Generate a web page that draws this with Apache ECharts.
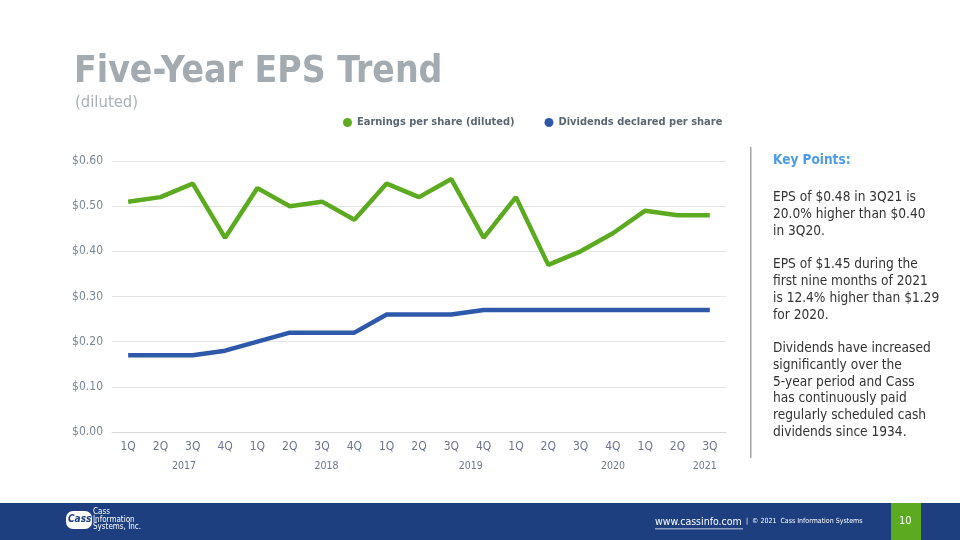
<!DOCTYPE html>
<html>
<head>
<meta charset="utf-8">
<script src="https://cdn.jsdelivr.net/npm/echarts@6/dist/echarts.min.js"></script>
<style>
  html, body { margin:0; padding:0; width:960px; height:540px; overflow:hidden; background:#fff; }
  #chart { width:960px; height:540px; }
</style>
</head>
<body>
<div id="chart"></div>
<script>
var quarters = ['1Q','2Q','3Q','4Q','1Q','2Q','3Q','4Q','1Q','2Q','3Q','4Q','1Q','2Q','3Q','4Q','1Q','2Q','3Q'];
var eps = [0.51,0.52,0.55,0.43,0.54,0.50,0.51,0.47,0.55,0.52,0.56,0.43,0.52,0.37,0.40,0.44,0.49,0.48,0.48];
var dividends = [0.17,0.17,0.17,0.18,0.20,0.22,0.22,0.22,0.26,0.26,0.26,0.27,0.27,0.27,0.27,0.27,0.27,0.27,0.27];
var yearLabels = ['2017','2018','2019','2020','2021'];
var yearPositions = [1.73, 6.14, 10.6, 15.0, 17.84];
var seriesNames = ['Earnings per share (diluted)', 'Dividends declared per share'];
var keyPointsTitle = 'Key Points:';
var keyPoints = [
  'EPS of $0.48 in 3Q21 is\n20.0% higher than $0.40\nin 3Q20.',
  'EPS of $1.45 during the\nfirst nine months of 2021\nis 12.4% higher than $1.29\nfor 2020.',
  'Dividends have increased\nsignificantly over the\n5-year period and Cass\nhas continuously paid\nregularly scheduled cash\ndividends since 1934.'
];

var font = '"DejaVu Sans", Verdana, sans-serif';
var cfont = '"DejaVu Sans Condensed", "DejaVu Sans", sans-serif';
var chart = echarts.init(document.getElementById('chart'), null, {renderer:'canvas'});

var graphics = [
  {type:'text', left:74, top:54, style:{text:'Five-Year EPS Trend', fill:'#A3ABB1', font:'bold 37px ' + cfont}},
  {type:'text', left:75, top:94, style:{text:'(diluted)', fill:'#A9B0B6', font:'16.5px ' + cfont}},
  {type:'rect', shape:{x:750, y:147, width:1.5, height:311}, style:{fill:'#A6A6A6'}},
  {type:'text', left:773, top:153, style:{text:keyPointsTitle, fill:'#4A9BE8', font:'bold 13.5px ' + cfont}},
  {type:'text', left:773, top:189, style:{text:keyPoints[0], fill:'#333333', font:'13.6px ' + cfont, lineHeight:17}},
  {type:'text', left:773, top:256, style:{text:keyPoints[1], fill:'#333333', font:'13.6px ' + cfont, lineHeight:17}},
  {type:'text', left:773, top:340, style:{text:keyPoints[2], fill:'#333333', font:'13.6px ' + cfont, lineHeight:16.8}},
  {type:'rect', shape:{x:0, y:503, width:960, height:37}, style:{fill:'#1D3F80'}},
  {type:'rect', shape:{x:891, y:503, width:30, height:37}, style:{fill:'#5BAA1F'}},
  {type:'text', left:899, top:516, style:{text:'10', fill:'#ffffff', font:'11px ' + cfont}},
  {type:'text', left:655, top:517, style:{text:'www.cassinfo.com', fill:'#ffffff', font:'10.5px ' + cfont}},
  {type:'rect', shape:{x:655, y:528.5, width:88, height:0.8}, style:{fill:'#ffffff'}},
  {type:'text', left:746, top:518, style:{text:'|  \u00a9 2021  Cass Information Systems', fill:'#ffffff', font:'7px ' + cfont}},
  {type:'rect', shape:{x:66, y:511, width:26, height:18, r:7}, style:{fill:'#ffffff'}},
  {type:'text', left:68, top:514, style:{text:'Cass', fill:'#1D3F80', font:'italic bold 10px ' + cfont}},
  {type:'text', left:93, top:508, style:{text:'Cass\nInformation\nSystems, Inc.', fill:'#ffffff', font:'8px ' + cfont, lineHeight:7.5}}
];

chart.setOption({
  backgroundColor:'#ffffff',
  animation:false,
  textStyle:{fontFamily:cfont},
  legend:{
    data:seriesNames,
    top:112,
    left:338,
    icon:'circle',
    itemWidth:9,
    itemHeight:9,
    itemGap:30,
    textStyle:{color:'#5C6670', fontSize:11, fontWeight:'bold', fontFamily:cfont}
  },
  grid:{left:112, right:234, top:161, bottom:108, containLabel:false},
  xAxis:[
    {
      type:'category',
      data:quarters,
      boundaryGap:true,
      axisLine:{show:true, lineStyle:{color:'#D9D9D9'}},
      axisTick:{show:false},
      axisLabel:{color:'#6B7590', fontSize:12, margin:9, interval:0, fontFamily:cfont}
    },
    {
      type:'value',
      position:'bottom',
      min:-0.5,
      max:18.5,
      axisLine:{show:false},
      axisTick:{show:false},
      splitLine:{show:false},
      axisLabel:{
        show:true,
        customValues:yearPositions,
        color:'#6B7590',
        fontSize:10.5,
        margin:29,
        fontFamily:cfont,
        formatter:function(v){
          for (var i=0;i<yearPositions.length;i++){ if (Math.abs(yearPositions[i]-v)<1e-6) return yearLabels[i]; }
          return '';
        }
      }
    }
  ],
  yAxis:{
    type:'value',
    min:0,
    max:0.6,
    interval:0.1,
    axisLine:{show:false},
    axisTick:{show:false},
    splitLine:{lineStyle:{color:'#E3E3E3'}},
    axisLabel:{color:'#7A8499', fontSize:12, margin:9, fontFamily:cfont, formatter:function(v){return '$' + v.toFixed(2);}}
  },
  series:[
    {
      name:seriesNames[0],
      type:'line',
      data:eps,
      xAxisIndex:0,
      symbol:'none',
      lineStyle:{color:'#5BAA1F', width:4.5},
      itemStyle:{color:'#5BAA1F'}
    },
    {
      name:seriesNames[1],
      type:'line',
      data:dividends,
      xAxisIndex:0,
      symbol:'none',
      lineStyle:{color:'#2E58AA', width:4.5},
      itemStyle:{color:'#2E58AA'}
    }
  ],
  graphic:graphics
});
</script>
</body>
</html>
